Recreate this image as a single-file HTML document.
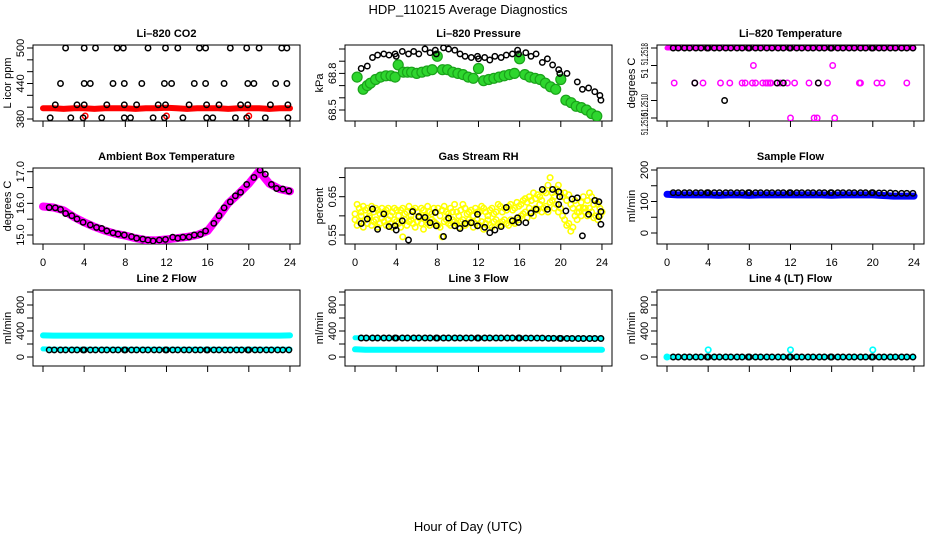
<!DOCTYPE html>
<html><head><meta charset="utf-8">
<style>
html,body{margin:0;padding:0;background:#fff;}
svg{display:block;font-family:"Liberation Sans",sans-serif;}
</style></head>
<body>
<svg id="chart" width="936" height="540" viewBox="0 0 936 540" xmlns="http://www.w3.org/2000/svg">
<text x="468" y="14" text-anchor="middle" font-size="13">HDP_110215  Average Diagnostics</text>
<text x="468" y="531" text-anchor="middle" font-size="13">Hour of Day (UTC)</text>
</svg>
<script>
// ---------- data ----------
const xTicks = [0,4,8,12,16,20,24];
const obsHours = [0.6,1.1,1.7,2.2,2.8,3.3,3.9,4.0,4.6,5.1,5.7,6.2,6.8,7.3,7.9,8.0,8.6,9.1,9.7,10.2,10.8,11.3,11.9,12.0,12.6,13.1,13.7,14.2,14.8,15.3,15.9,16.0,16.6,17.1,17.7,18.2,18.8,19.3,19.9,20.0,20.6,21.1,21.7,22.2,22.8,23.3,23.9];
const hourGrid = [0,1,2,3,4,5,6,7,8,9,10,11,12,13,14,15,16,17,18,19,20,21,22,23,24];

// CO2
const co2Hours = [2.2,4.0,5.1,7.2,7.8,10.2,11.9,13.1,15.2,15.8,18.2,19.8,21.0,23.2,23.7,
 1.7,4.0,4.6,6.8,7.9,9.6,11.8,12.5,14.7,15.8,17.6,19.9,20.5,22.6,23.7,
 1.2,3.3,4.0,6.2,7.9,9.1,11.2,11.9,14.2,15.9,17.1,19.2,19.9,22.1,23.8,
 0.7,2.7,3.9,5.7,7.9,8.5,10.7,11.8,13.6,15.9,16.5,18.7,19.8,21.6,23.8];
const co2Vals = [500,500,500,500,500,500,500,500,500,500,500,500,500,500,500,
 440,440,440,440,440,440,440,440,440,440,440,440,440,440,440,
 404,404,404,404,404,404,404,404,404,404,404,404,404,404,404,
 382,382,382,382,382,382,382,382,382,382,382,382,382,382,382];
const co2Red = [398,398,397,398,398,397,398,398,398,397,398,398,399,398,397,398,398,398,397,398,398,398,397,398,398];
const co2RedPtHours = [4.1,12.0,20.0];
const co2RedPtVals = [385,385,385];

// Pressure
const presHours = [0.6,1.2,1.7,2.2,2.8,3.3,3.9,4.0,4.6,5.2,5.7,6.2,6.8,7.3,7.8,7.9,8.6,9.1,9.7,10.2,10.7,11.3,11.9,12.0,12.6,13.1,13.6,14.2,14.7,15.3,15.8,15.9,16.6,17.1,17.6,18.2,18.7,19.2,19.8,19.9,20.6,21.6,22.1,22.7,23.3,23.8,23.9];
const presVals = [68.84,68.86,68.93,68.95,68.96,68.95,68.96,68.94,68.98,68.96,68.98,68.96,69.00,68.97,68.99,68.96,69.01,69.00,68.99,68.96,68.94,68.93,68.94,68.92,68.93,68.91,68.94,68.93,68.95,68.96,68.99,68.96,68.97,68.94,68.96,68.89,68.92,68.87,68.83,68.80,68.80,68.73,68.67,68.68,68.65,68.62,68.58];
const greenHours = [0.2,0.8,1.2,1.5,2.0,2.5,3.0,3.5,3.9,4.2,4.7,5.1,5.5,6.0,6.5,7.0,7.5,8.0,8.5,9.0,9.5,10.0,10.5,11.0,11.5,12.0,12.5,13.0,13.5,14.0,14.5,15.0,15.5,16.0,16.5,17.0,17.5,18.0,18.5,19.0,19.5,20.0,20.5,21.0,21.5,22.0,22.5,23.0,23.5];
const greenVals = [68.77,68.67,68.70,68.72,68.75,68.77,68.78,68.78,68.77,68.87,68.81,68.81,68.81,68.80,68.81,68.82,68.83,68.94,68.83,68.83,68.81,68.80,68.79,68.77,68.76,68.84,68.74,68.75,68.76,68.77,68.78,68.79,68.80,68.92,68.79,68.77,68.76,68.75,68.72,68.69,68.67,68.75,68.58,68.56,68.53,68.52,68.50,68.47,68.45];

// Li-820 temperature
const ltTopMagenta = [51.2518,51.2518,51.2518,51.2518,51.2518,51.2518,51.2518,51.2518,51.2518,51.2518,51.2518,51.2518,51.2518,51.2518,51.2518,51.2518,51.2518,51.2518,51.2518,51.2518,51.2518,51.2518,51.2518,51.2518,51.2518];
const ltTopBlack = [51.2518,51.2518,51.2518,51.2518,51.2518,51.2518,51.2518,51.2518,51.2518,51.2518,51.2518,51.2518,51.2518,51.2518,51.2518,51.2518,51.2518,51.2518,51.2518,51.2518,51.2518,51.2518,51.2518,51.2518,51.2518,51.2518,51.2518,51.2518,51.2518,51.2518,51.2518,51.2518,51.2518,51.2518,51.2518,51.2518,51.2518,51.2518,51.2518,51.2518,51.2518,51.2518,51.2518,51.2518,51.2518,51.2518,51.2518];
const ltMagHours = [0.7,2.7,3.5,5.2,6.1,7.3,7.6,8.3,8.6,9.3,9.6,9.8,10.0,10.1,10.7,11.0,11.7,12.4,13.8,14.7,15.6,18.7,18.8,20.4,20.9,23.3,8.4,16.1,12.0,14.3,14.6,16.3];
const ltMagVals = [51.2514,51.2514,51.2514,51.2514,51.2514,51.2514,51.2514,51.2514,51.2514,51.2514,51.2514,51.2514,51.2514,51.2514,51.2514,51.2514,51.2514,51.2514,51.2514,51.2514,51.2514,51.2514,51.2514,51.2514,51.2514,51.2514,51.2516,51.2516,51.2510,51.2510,51.2510,51.2510];
const ltBlkHours = [2.7,10.7,11.3,14.7,5.6];
const ltBlkVals = [51.2514,51.2514,51.2514,51.2514,51.2512];

// Ambient box temperature
const ambHours = [0.6,1.2,1.7,2.2,2.8,3.3,3.9,4.6,5.2,5.7,6.2,6.8,7.3,7.9,8.6,9.1,9.7,10.2,10.7,11.3,11.9,12.6,13.1,13.6,14.2,14.7,15.3,15.8,16.6,17.1,17.6,18.2,18.7,19.2,19.8,20.5,21.1,21.6,22.2,22.7,23.3,23.9];
const ambVals = [15.87,15.86,15.81,15.68,15.61,15.51,15.40,15.32,15.24,15.21,15.13,15.07,15.03,15.00,14.95,14.90,14.87,14.84,14.81,14.84,14.86,14.93,14.90,14.93,14.94,15.00,15.02,15.13,15.37,15.61,15.86,16.05,16.24,16.35,16.60,16.82,17.05,16.92,16.60,16.47,16.45,16.39];
const ambMagenta = [15.90,15.87,15.78,15.57,15.40,15.26,15.14,15.04,14.98,14.90,14.84,14.83,14.86,14.90,14.94,15.00,15.13,15.55,16.00,16.30,16.62,17.02,16.62,16.45,16.38];

// Gas stream RH
const rhYellowA = [0.605,0.63,0.62,0.61,0.625,0.615,0.62,0.60,0.625,0.61,0.62,0.615,0.605,0.62,0.61,0.615,0.62,0.60,0.61,0.62,0.615,0.60,0.615,0.62,0.605,0.61,0.625,0.60,0.615,0.62,0.61,0.60,0.62,0.615,0.60,0.625,0.61,0.605,0.62,0.61,0.62,0.60,0.615,0.625,0.61,0.605,0.62,0.61,0.63,0.61,0.60,0.615,0.63,0.62,0.605,0.61,0.615,0.60,0.62,0.61,0.61,0.625,0.62,0.61,0.60,0.615,0.62,0.605,0.61,0.63,0.625,0.61,0.62,0.615,0.625,0.63,0.615,0.62,0.635,0.625,0.63,0.64,0.645,0.635,0.65,0.64,0.66,0.645,0.655,0.65,0.64,0.665,0.66,0.68,0.70,0.66,0.65,0.67,0.68,0.66,0.65,0.66,0.64,0.655,0.63,0.62,0.64,0.61,0.62,0.635,0.65,0.62,0.64,0.66,0.65,0.63,0.64,0.63,0.62,0.61];
const rhYellowB = [0.59,0.575,0.585,0.60,0.57,0.59,0.58,0.595,0.575,0.585,0.59,0.57,0.58,0.595,0.585,0.575,0.59,0.58,0.57,0.59,0.585,0.58,0.57,0.545,0.59,0.575,0.585,0.59,0.58,0.57,0.585,0.595,0.58,0.565,0.59,0.58,0.575,0.59,0.585,0.58,0.575,0.57,0.545,0.585,0.59,0.58,0.575,0.59,0.585,0.58,0.57,0.585,0.59,0.575,0.58,0.59,0.585,0.57,0.58,0.59,0.575,0.585,0.565,0.58,0.59,0.575,0.57,0.585,0.59,0.58,0.575,0.585,0.59,0.58,0.575,0.59,0.585,0.58,0.595,0.59,0.60,0.605,0.61,0.595,0.62,0.61,0.60,0.62,0.615,0.63,0.61,0.62,0.625,0.61,0.635,0.64,0.62,0.63,0.61,0.62,0.60,0.59,0.575,0.58,0.56,0.57,0.60,0.59,0.61,0.60,0.62,0.61,0.60,0.62,0.61,0.595,0.60,0.59,0.60,0.61];
const rhHours = [0.6,1.2,1.7,2.2,2.8,3.3,3.9,4.0,4.6,5.2,5.6,6.2,6.8,7.3,7.8,7.9,8.6,9.1,9.7,10.2,10.7,11.3,11.9,11.9,12.6,13.1,13.6,14.2,14.7,15.3,15.8,15.9,16.6,17.1,17.6,18.2,18.7,19.2,19.8,19.9,19.8,20.5,21.1,21.6,22.1,22.7,23.3,23.7,23.9,23.7,23.9];
const rhVals = [0.580,0.592,0.618,0.565,0.605,0.572,0.574,0.563,0.587,0.537,0.611,0.598,0.596,0.582,0.609,0.574,0.546,0.594,0.574,0.567,0.580,0.582,0.604,0.574,0.570,0.556,0.563,0.572,0.622,0.587,0.595,0.583,0.582,0.607,0.617,0.669,0.617,0.669,0.663,0.650,0.630,0.613,0.644,0.647,0.548,0.604,0.640,0.637,0.611,0.598,0.578];

// Sample flow
const sampleBlue = [123,121,121,121,121,120,121,121,120,121,121,121,121,121,121,121,120,121,121,121,121,119,117,117,117];
const sampleBlack = [128,128,128,128,128,128,128,128,128,128,128,128,128,128,128,128,128,128,128,128,128,128,128,128,128,128,128,128,128,128,128,128,128,128,128,128,128,128,128,128,127,127,127,126,126,126,126];

// Line flows
const line2CyanHi = [332,330,330,330,330,330,330,330,330,330,330,330,330,330,330,330,330,330,330,330,330,330,330,330,332];
const line2CyanLo = [125,120,120,120,120,120,120,120,120,120,120,120,120,120,120,120,120,120,120,120,120,120,120,120,120];
const line2Black = [110,110,110,110,110,110,110,110,110,110,110,110,110,110,110,110,110,110,110,110,110,110,110,110,110,110,110,110,110,110,110,110,110,110,110,110,110,110,110,110,110,110,110,110,110,110,110];
const line3CyanHi = [295,292,292,292,292,292,292,292,292,292,292,292,292,292,292,292,292,292,292,292,290,288,288,288,288];
const line3CyanLo = [118,112,112,112,113,112,112,112,113,112,112,112,113,112,112,112,113,112,112,112,113,112,112,112,113];
const line3Black = [292,292,292,292,292,292,292,290,292,292,292,292,292,292,292,290,292,292,292,292,292,292,292,290,292,292,292,292,292,292,292,290,290,290,290,290,288,288,288,286,286,286,284,284,284,284,284];
const line4Black = [0,0,0,0,0,0,0,0,0,0,0,0,0,0,0,0,0,0,0,0,0,0,0,0,0,0,0,0,0,0,0,0,0,0,0,0,0,0,0,0,0,0,0,0,0,0,0];
const line4CyanLine = [0,0,0,0,0,0,0,0,0,0,0,0,0,0,0,0,0,0,0,0,0,0,0,0,0];
const line4CyanHours = [0.0,4.0,12.0,20.0];
const line4CyanVals = [0,110,110,110];

// ---------- drawing ----------
const NS = "http://www.w3.org/2000/svg";
const svg = document.getElementById("chart");
const COLS = [[33,300],[345,612],[657,924]];
const ROWS = [[45,121],[168,244],[290,366]];
function mk(parent, tag, attrs, text){
  const e = document.createElementNS(NS, tag);
  for (const k in attrs) e.setAttribute(k, attrs[k]);
  if (text !== undefined) e.textContent = text;
  parent.appendChild(e);
  return e;
}
function lin(v1,p1,v2,p2){ return v => p1 + (v - v1) * (p2 - p1) / (v2 - v1); }

function panel(cfg){
  const [L,R] = COLS[cfg.col], [T,B] = ROWS[cfg.row];
  const g = mk(svg,"g",{});
  
  
  const x = h => L + 10 + h * 10.29;
  const y = cfg.y;
  const t = mk(g,"text",{x:(L+R)/2, y:T-8, "text-anchor":"middle","font-size":"11","font-weight":"bold"}, cfg.title);
  
  
  const box = mk(g,"rect",{x:L,y:T,width:R-L,height:B-T,fill:"none",stroke:"#000","stroke-width":"1"});
  
  
  const xa = mk(g,"g",{stroke:"#000","stroke-width":"1"});
  
  
  xTicks.forEach(v=>{
    const tk = mk(xa,"line",{x1:x(v),x2:x(v),y1:B,y2:B+6});
    
    
    if (cfg.row === 1){
      const lb = mk(g,"text",{x:x(v),y:B+22,"text-anchor":"middle","font-size":"11"}, String(v));
      
      
    }
  });
  const ya = mk(g,"g",{stroke:"#000","stroke-width":"1"});
  
  
  cfg.yTicks.forEach(v=>{
    const tk = mk(ya,"line",{x1:L-6,x2:L,y1:y(v),y2:y(v)});
    
    
  });
  cfg.yLabels.forEach((s,i)=>{
    const py = y(cfg.yLabelVals[i]);
    const attrs = {transform:`translate(${L-9},${py}) rotate(-90)`,"text-anchor":"middle","font-size":cfg.yFont||"11"};
    if (cfg.yLen) { attrs.textLength = cfg.yLen[i]; attrs.lengthAdjust = "spacingAndGlyphs"; }
    const lb = mk(g,"text",attrs, s);
    
    
  });
  const yt = mk(g,"text",{transform:`translate(${L-22},${(T+B)/2}) rotate(-90)`,"text-anchor":"middle","font-size":"11"}, cfg.ylab);
  
  
  const clip = "clip"+cfg.col+cfg.row;
  const cp = mk(svg,"clipPath",{id:clip});
  mk(cp,"rect",{x:L,y:T,width:R-L,height:B-T});
  const plot = mk(g,"g",{"clip-path":`url(#${clip})`});
  
  
  return {g:plot,x,y};
}
function band(p, hours, vals, color, w, name){
  const pts = hours.map((h,i)=>p.x(h).toFixed(1)+","+p.y(vals[i]).toFixed(1)).join(" ");
  const e = mk(p.g,"polyline",{points:pts,fill:"none",stroke:color,"stroke-width":w,"stroke-linecap":"round","stroke-linejoin":"round"});
  
  
}
function pts(p, hours, vals, color, r, sw, name, fill){
  const grp = mk(p.g,"g",{fill:fill||"none",stroke:color,"stroke-width":sw});
  
  
  hours.forEach((h,i)=>{
    const c = mk(grp,"circle",{cx:p.x(h).toFixed(1),cy:p.y(vals[i]).toFixed(1),r:r});
    
    
  });
}
function evenHours(n){ const a=[]; for(let i=0;i<n;i++) a.push(24*i/(n-1)); return a; }
const R0 = 2.7, SW = 1.5;

// Panel 1: CO2
let p = panel({name:"co2-panel",col:0,row:0,title:"Li\u2013820 CO2",ylab:"L icor ppm",
  y:lin(500,48,380,119),yTicks:[380,400,420,440,460,480,500],yLabels:["380","440","500"],yLabelVals:[380,440,500]});
band(p, hourGrid, co2Red, "#ff0000", 6, "co2-red-series");
pts(p, co2RedPtHours, co2RedPtVals, "#ff0000", R0, SW, "co2-red-points");
pts(p, co2Hours, co2Vals, "#000", R0, SW, "co2-black-points");

// Panel 2: Pressure
p = panel({name:"pressure-panel",col:1,row:0,title:"Li\u2013820 Pressure",ylab:"kPa",
  y:lin(68.5,110,68.8,73.4),yTicks:[68.5,68.6,68.7,68.8,68.9,69.0],yLabels:["68.5","68.8"],yLabelVals:[68.5,68.8]});
pts(p, greenHours, greenVals, "#1aa31a", 5, 1.2, "pressure-green-series", "#2ed62e");
pts(p, presHours, presVals, "#000", R0, SW, "pressure-black-points");

// Panel 3: Li-820 Temperature
p = panel({name:"li820-temperature-panel",col:2,row:0,title:"Li\u2013820 Temperature",ylab:"degrees C",
  y:lin(51.2518,48,51.2510,118),yTicks:[51.2510,51.2512,51.2514,51.2516,51.2518],
  yLabels:["51.2510","51.2510","51","51.2518"],yLabelVals:[51.25093,51.25115,51.25151,51.25173],
  yFont:"10", yLen:[22,22,10,22]});
band(p, hourGrid, ltTopMagenta, "#ff00ff", 5, "temp-magenta-series");
pts(p, obsHours, ltTopBlack, "#000", R0, SW, "temp-black-top-points");
pts(p, ltMagHours, ltMagVals, "#ff00ff", R0, SW, "temp-magenta-points");
pts(p, ltBlkHours, ltBlkVals, "#000", R0, SW, "temp-black-points");

// Panel 4: Ambient
p = panel({name:"ambient-temperature-panel",col:0,row:1,title:"Ambient Box Temperature",ylab:"degrees C",
  y:lin(17,171.7,15,235),yTicks:[15,15.5,16,16.5,17],yLabels:["15.0","16.0","17.0"],yLabelVals:[15,16,17]});
band(p, hourGrid, ambMagenta, "#ff00ff", 8, "ambient-magenta-series");
pts(p, ambHours, ambVals, "#000", R0, SW, "ambient-black-points");

// Panel 5: RH
p = panel({name:"rh-panel",col:1,row:1,title:"Gas Stream RH",ylab:"percent",
  y:lin(0.55,235,0.65,196.7),yTicks:[0.55,0.60,0.65,0.70],yLabels:["0.55","0.65"],yLabelVals:[0.55,0.65]});
pts(p, evenHours(rhYellowA.length), rhYellowA, "#ffff00", R0, 1.6, "rh-yellow-upper");
pts(p, evenHours(rhYellowB.length), rhYellowB, "#ffff00", R0, 1.6, "rh-yellow-lower");
pts(p, rhHours, rhVals, "#000", R0, SW, "rh-black-points");

// Panel 6: Sample flow
p = panel({name:"sample-flow-panel",col:2,row:1,title:"Sample Flow",ylab:"ml/min",
  y:lin(0,233,200,170),yTicks:[0,50,100,150,200],yLabels:["0","100","200"],yLabelVals:[0,100,200]});
band(p, hourGrid, sampleBlue, "#0000ff", 7, "sample-blue-series");
pts(p, obsHours, sampleBlack, "#000", R0, SW, "sample-black-points");

// Panels 7-9: line flows
const flowY = () => lin(0,357,1000,292);
p = panel({name:"line2-flow-panel",col:0,row:2,title:"Line 2 Flow",ylab:"ml/min",
  y:flowY(),yTicks:[0,200,400,600,800,1000],yLabels:["0","400","800"],yLabelVals:[0,400,800]});
band(p, hourGrid, line2CyanHi, "#00ffff", 6, "line2-cyan-high");
band(p, hourGrid, line2CyanLo, "#00ffff", 5, "line2-cyan-low");
pts(p, obsHours, line2Black, "#000", R0, SW, "line2-black-points");

p = panel({name:"line3-flow-panel",col:1,row:2,title:"Line 3 Flow",ylab:"ml/min",
  y:flowY(),yTicks:[0,200,400,600,800,1000],yLabels:["0","400","800"],yLabelVals:[0,400,800]});
band(p, hourGrid, line3CyanHi, "#00ffff", 5, "line3-cyan-high");
band(p, hourGrid, line3CyanLo, "#00ffff", 6, "line3-cyan-low");
pts(p, obsHours, line3Black, "#000", R0, SW, "line3-black-points");

p = panel({name:"line4-flow-panel",col:2,row:2,title:"Line 4 (LT) Flow",ylab:"ml/min",
  y:flowY(),yTicks:[0,200,400,600,800,1000],yLabels:["0","400","800"],yLabelVals:[0,400,800]});
band(p, hourGrid, line4CyanLine, "#00ffff", 5, "line4-cyan-series");
pts(p, obsHours, line4Black, "#000", R0, SW, "line4-black-points");
pts(p, line4CyanHours, line4CyanVals, "#00ffff", R0, 1.7, "line4-cyan-points");
</script>
</body></html>
